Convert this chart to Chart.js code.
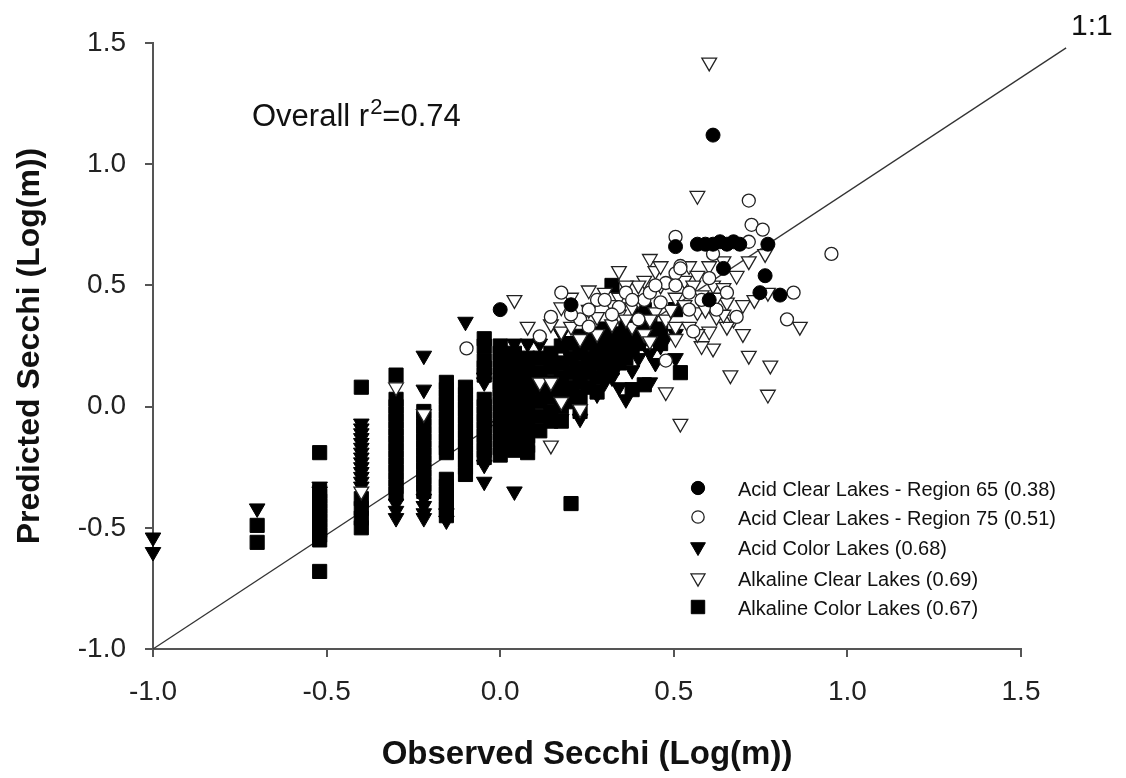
<!DOCTYPE html>
<html>
<head>
<meta charset="utf-8">
<title>Observed vs Predicted Secchi</title>
<script src="https://cdn.jsdelivr.net/npm/chart.js@4.4.1/dist/chart.umd.min.js"></script>
<style>
  html, body { margin: 0; padding: 0; background: #fff; }
  #wrap { width: 1126px; height: 778px; }
</style>
</head>
<body>
<div id="wrap"><canvas id="secchiChart" width="1126" height="778"></canvas></div>
<script>
// tick labels
const xTickLabels = ['-1.0', '-0.5', '0.0', '0.5', '1.0', '1.5'];
const yTickLabels = ['-1.0', '-0.5', '0.0', '0.5', '1.0', '1.5'];

// series: [observed, predicted] in log10(m)
const acidClear65 = [
  [0.0, 0.40], [0.204, 0.42], [0.505, 0.66], [0.568, 0.67], [0.591, 0.67],
  [0.613, 0.67], [0.633, 0.68], [0.653, 0.67], [0.672, 0.68], [0.690, 0.67],
  [0.771, 0.67], [0.613, 1.12], [0.643, 0.57], [0.602, 0.44], [0.763, 0.54],
  [0.748, 0.47], [0.806, 0.46]
];
const acidClear75 = [
  [0.716, 0.85], [0.724, 0.75], [0.756, 0.73], [0.505, 0.70], [0.716, 0.68],
  [0.613, 0.63], [0.954, 0.63], [0.845, 0.47], [0.826, 0.36], [0.681, 0.37],
  [0.505, 0.55], [0.519, 0.58], [0.477, 0.51], [0.505, 0.50], [0.544, 0.47],
  [0.580, 0.44], [0.415, 0.44], [0.477, 0.19], [0.176, 0.47], [0.279, 0.44],
  [0.519, 0.57], [-0.097, 0.24], [0.146, 0.37], [0.301, 0.44], [0.230, 0.36],
  [0.342, 0.41], [0.431, 0.47], [0.623, 0.40], [0.556, 0.31], [0.114, 0.29],
  [0.362, 0.47], [0.462, 0.43], [0.255, 0.40], [0.398, 0.36], [0.653, 0.47],
  [0.380, 0.44], [0.447, 0.50], [0.544, 0.40], [0.602, 0.53], [0.322, 0.38],
  [0.255, 0.33], [0.204, 0.38]
];
const acidColor = [
  [-1.0, -0.54], [-1.0, -0.60], [-0.70, -0.42], [-0.52, -0.33], [-0.52, -0.35],
  [-0.40, -0.07], [-0.40, -0.09], [-0.40, -0.11], [-0.40, -0.13], [-0.40, -0.15],
  [-0.40, -0.17], [-0.40, -0.19], [-0.40, -0.21], [-0.40, -0.23], [-0.40, -0.25],
  [-0.40, -0.27], [-0.40, -0.29], [-0.40, -0.31], [-0.40, -0.33],
  [-0.30, -0.40], [-0.30, -0.43], [-0.30, -0.46],
  [-0.22, 0.21], [-0.22, 0.07], [-0.22, -0.38], [-0.22, -0.41], [-0.22, -0.44], [-0.22, -0.46],
  [-0.155, -0.44], [-0.155, -0.47], [-0.10, 0.35],
  [-0.046, 0.12], [-0.046, 0.10], [-0.046, -0.24], [-0.046, -0.31], [0.041, -0.35],
  [0.041, 0.26], [0.079, 0.26], [0.114, 0.26], [0.176, -0.05], [0.230, -0.05],
  [0.301, 0.10], [0.505, 0.20], [0.079, 0.12], [0.146, 0.18], [0.204, 0.20],
  [0.255, 0.15], [0.301, 0.23], [0.342, 0.18], [0.398, 0.20], [0.447, 0.18],
  [0.462, 0.25], [0.380, 0.28], [0.322, 0.12], [0.279, 0.05], [0.114, 0.06],
  [0.041, 0.02], [0.0, -0.08], [0.146, -0.02], [0.204, 0.05], [0.431, 0.10],
  [0.362, 0.03], [0.255, 0.30], [0.176, 0.30], [0.079, -0.10], [0.041, -0.14],
  [0.505, 0.30], [0.477, 0.28], [0.431, 0.22], [0.380, 0.15], [0.342, 0.08],
  [0.279, 0.20], [0.230, 0.12], [0.176, 0.08]
];
const alkClear = [
  [0.602, 1.42], [0.568, 0.87], [0.763, 0.63], [0.716, 0.60], [0.681, 0.54],
  [0.643, 0.60], [0.771, 0.47], [0.863, 0.33], [0.653, 0.43], [0.431, 0.61],
  [0.447, 0.56], [0.415, 0.52], [0.342, 0.56], [0.544, 0.58], [0.568, 0.54],
  [0.613, 0.50], [0.643, 0.49], [0.531, 0.52], [0.342, 0.45], [0.380, 0.41],
  [0.447, 0.39], [0.568, 0.39], [0.623, 0.37], [0.672, 0.36], [0.699, 0.30],
  [0.613, 0.24], [0.716, 0.21], [0.778, 0.17], [0.663, 0.13], [0.771, 0.05],
  [0.477, 0.06], [0.519, -0.07], [0.146, -0.16], [0.041, 0.44], [0.079, 0.33],
  [0.176, 0.41], [0.146, 0.34], [0.176, 0.31], [0.204, 0.33], [0.255, 0.40],
  [0.279, 0.37], [0.322, 0.34], [0.342, 0.38], [0.380, 0.33], [0.398, 0.50],
  [0.602, 0.58], [0.544, 0.33], [0.477, 0.36], [0.415, 0.30], [-0.30, 0.08],
  [-0.40, -0.35], [-0.22, -0.03], [0.114, 0.10], [0.146, 0.10], [0.176, 0.02],
  [0.230, -0.01], [0.255, 0.48], [0.462, 0.58], [0.505, 0.45], [0.580, 0.46],
  [0.699, 0.42], [0.732, 0.44], [0.362, 0.50], [0.301, 0.47], [0.204, 0.45],
  [0.505, 0.33], [0.602, 0.31], [0.653, 0.33], [0.431, 0.27], [0.580, 0.25],
  [0.398, 0.44], [0.462, 0.50], [0.491, 0.40], [0.531, 0.42], [0.556, 0.50],
  [0.591, 0.40], [0.623, 0.45], [0.362, 0.36], [0.279, 0.30], [0.230, 0.28],
  [0.322, 0.42], [0.431, 0.36], [0.505, 0.28], [0.568, 0.30], [0.643, 0.38]
];
const alkColor = [
  [-0.70, -0.49], [-0.70, -0.56],
  [-0.52, -0.19], [-0.52, -0.35], [-0.52, -0.37], [-0.52, -0.39], [-0.52, -0.41],
  [-0.52, -0.43], [-0.52, -0.45], [-0.52, -0.47], [-0.52, -0.49], [-0.52, -0.51],
  [-0.52, -0.53], [-0.52, -0.55], [-0.52, -0.68],
  [-0.40, 0.08], [-0.40, -0.38], [-0.40, -0.42], [-0.40, -0.46], [-0.40, -0.50],
  [-0.30, 0.13], [-0.30, 0.03], [-0.30, 0.00], [-0.30, -0.03], [-0.30, -0.06],
  [-0.30, -0.09], [-0.30, -0.12], [-0.30, -0.15], [-0.30, -0.18], [-0.30, -0.21],
  [-0.30, -0.24], [-0.30, -0.27], [-0.30, -0.30], [-0.30, -0.33], [-0.30, -0.36],
  [-0.22, -0.02], [-0.22, -0.05], [-0.22, -0.08], [-0.22, -0.11], [-0.22, -0.14],
  [-0.22, -0.17], [-0.22, -0.20], [-0.22, -0.23], [-0.22, -0.26], [-0.22, -0.29],
  [-0.22, -0.32], [-0.22, -0.35],
  [-0.155, 0.10], [-0.155, 0.07], [-0.155, 0.04], [-0.155, 0.01], [-0.155, -0.02],
  [-0.155, -0.05], [-0.155, -0.08], [-0.155, -0.11], [-0.155, -0.14], [-0.155, -0.17],
  [-0.155, -0.19], [-0.155, -0.30], [-0.155, -0.33], [-0.155, -0.36], [-0.155, -0.39],
  [-0.155, -0.42], [-0.155, -0.45],
  [-0.10, 0.08], [-0.10, 0.05], [-0.10, 0.02], [-0.10, -0.01], [-0.10, -0.04],
  [-0.10, -0.07], [-0.10, -0.10], [-0.10, -0.13], [-0.10, -0.16], [-0.10, -0.19],
  [-0.10, -0.22], [-0.10, -0.25], [-0.10, -0.28],
  [-0.046, 0.28], [-0.046, 0.25], [-0.046, 0.19], [-0.046, 0.16], [-0.046, 0.13],
  [-0.046, 0.03], [-0.046, 0.00], [-0.046, -0.03], [-0.046, -0.06], [-0.046, -0.09],
  [-0.046, -0.12], [-0.046, -0.15], [-0.046, -0.18], [-0.046, -0.21],
  [0.0, 0.25], [0.0, 0.22], [0.0, 0.19], [0.0, 0.16], [0.0, 0.13], [0.0, 0.10],
  [0.0, 0.07], [0.0, 0.04], [0.0, 0.01], [0.0, -0.02], [0.0, -0.05], [0.0, -0.08],
  [0.0, -0.11], [0.0, -0.14], [0.0, -0.17], [0.0, -0.20],
  [0.041, 0.22], [0.041, 0.18], [0.041, 0.14], [0.041, 0.10], [0.041, 0.06],
  [0.041, 0.02], [0.041, -0.02], [0.041, -0.06], [0.041, -0.10], [0.041, -0.14],
  [0.041, -0.18],
  [0.079, 0.20], [0.079, 0.16], [0.079, 0.12], [0.079, 0.08], [0.079, 0.04],
  [0.079, 0.00], [0.079, -0.04], [0.079, -0.08], [0.079, -0.12], [0.079, -0.16],
  [0.079, -0.19],
  [0.114, 0.20], [0.114, 0.14], [0.114, 0.08], [0.114, 0.02], [0.114, -0.04], [0.114, -0.10],
  [0.146, 0.22], [0.146, 0.16], [0.146, 0.10], [0.146, 0.04], [0.146, -0.02], [0.146, -0.06],
  [0.176, 0.25], [0.176, 0.18], [0.176, 0.12], [0.176, 0.06], [0.176, 0.00], [0.176, -0.06],
  [0.204, 0.26], [0.204, 0.20], [0.204, 0.14], [0.204, 0.08], [0.204, 0.02], [0.204, -0.40],
  [0.230, 0.29], [0.230, 0.22], [0.230, 0.16], [0.230, 0.10], [0.230, 0.04], [0.230, -0.02],
  [0.255, 0.26], [0.255, 0.20], [0.255, 0.14], [0.255, 0.08],
  [0.279, 0.30], [0.279, 0.24], [0.279, 0.18], [0.279, 0.12], [0.279, 0.06],
  [0.301, 0.32], [0.301, 0.26], [0.301, 0.20], [0.301, 0.14],
  [0.322, 0.50], [0.322, 0.28], [0.322, 0.22], [0.322, 0.16],
  [0.342, 0.30], [0.342, 0.24], [0.342, 0.18],
  [0.362, 0.33], [0.362, 0.27], [0.362, 0.20],
  [0.380, 0.30], [0.380, 0.24], [0.380, 0.07],
  [0.398, 0.40], [0.398, 0.32], [0.398, 0.26],
  [0.415, 0.40], [0.415, 0.30], [0.415, 0.09],
  [0.431, 0.34], [0.431, 0.28], [0.462, 0.32], [0.462, 0.26],
  [0.505, 0.40], [0.519, 0.14]
];

// reference line endpoints
const oneToOneX = [-1.0, 1.63];
const oneToOneY = [-1.0, 1.48];

const legendLabels = [
  'Acid Clear Lakes - Region 65 (0.38)',
  'Acid Clear Lakes - Region 75 (0.51)',
  'Acid Color Lakes (0.68)',
  'Alkaline Clear Lakes (0.69)',
  'Alkaline Color Lakes (0.67)'
];

const FONT = '"Liberation Sans", Arial, Helvetica, sans-serif';
const toXY = arr => arr.map(p => ({ x: p[0], y: p[1] }));

// marker styles, same order as legendLabels
const markers = [
  { pointStyle: 'circle', radius: 7, rotation: 0, fill: '#000', stroke: '#000', borderWidth: 1 },
  { pointStyle: 'circle', radius: 6.5, rotation: 0, fill: '#fff', stroke: '#222', borderWidth: 1.3 },
  { pointStyle: 'triangle', radius: 9, rotation: 180, fill: '#000', stroke: '#000', borderWidth: 1 },
  { pointStyle: 'triangle', radius: 8.5, rotation: 180, fill: '#fff', stroke: '#222', borderWidth: 1.3 },
  { pointStyle: 'rect', radius: 10, rotation: 0, fill: '#000', stroke: '#000', borderWidth: 1 }
];

function scatterSet(label, pts, m) {
  return {
    type: 'scatter',
    label: label,
    data: toXY(pts),
    pointStyle: m.pointStyle,
    pointRadius: m.radius,
    pointRotation: m.rotation,
    pointBackgroundColor: m.fill,
    pointBorderColor: m.stroke,
    pointBorderWidth: m.borderWidth,
    clip: false
  };
}

// text + legend drawn straight onto the canvas
const annotations = {
  id: 'annotations',
  afterDraw(chart) {
    const ctx = chart.ctx;
    ctx.save();
    ctx.fillStyle = '#111';
    ctx.textBaseline = 'alphabetic';
    ctx.textAlign = 'left';

    // Overall r^2
    ctx.font = '31px ' + FONT;
    let x = 252;
    ctx.fillText('Overall r', x, 126);
    x += ctx.measureText('Overall r').width + 1;
    ctx.font = '22px ' + FONT;
    ctx.fillText('2', x, 114);
    x += ctx.measureText('2').width;
    ctx.font = '31px ' + FONT;
    ctx.fillText('=0.74', x, 126);

    // 1:1 label
    ctx.font = '30px ' + FONT;
    ctx.fillText('1:1', 1071, 35);

    // legend
    const rowsY = [488, 517, 547, 578, 607];
    ctx.font = '20px ' + FONT;
    legendLabels.forEach((txt, i) => {
      const m = markers[i];
      ctx.fillStyle = m.fill;
      ctx.strokeStyle = m.stroke;
      ctx.lineWidth = m.borderWidth;
      Chart.helpers.drawPoint(ctx, {
        pointStyle: m.pointStyle,
        radius: m.radius * 0.95,
        rotation: m.rotation,
        borderWidth: m.borderWidth
      }, 698, rowsY[i]);
      ctx.fillStyle = '#111';
      ctx.fillText(txt, 738, rowsY[i] + 8);
    });
    ctx.restore();
  }
};

const axisColor = '#555';
const ctx = document.getElementById('secchiChart').getContext('2d');
const secchiChart = new Chart(ctx, {
  data: {
    datasets: [
      scatterSet(legendLabels[0], acidClear65, markers[0]),
      scatterSet(legendLabels[1], acidClear75, markers[1]),
      scatterSet(legendLabels[3], alkClear, markers[3]),
      scatterSet(legendLabels[4], alkColor, markers[4]),
      scatterSet(legendLabels[2], acidColor, markers[2]),
      {
        type: 'line',
        label: '1:1',
        data: oneToOneX.map((v, i) => ({ x: v, y: oneToOneY[i] })),
        borderColor: '#333',
        borderWidth: 1.3,
        pointRadius: 0,
        fill: false,
        clip: false
      }
    ]
  },
  options: {
    responsive: false,
    animation: false,
    events: [],
    layout: { padding: { left: 0, top: 43, right: 105, bottom: 0 } },
    plugins: {
      legend: { display: false },
      tooltip: { enabled: false }
    },
    scales: {
      x: {
        type: 'linear',
        position: 'bottom',
        min: -1.0,
        max: 1.5,
        afterFit: s => { s.height = 129; },
        ticks: {
          stepSize: 0.5,
          padding: 18,
          color: '#222',
          font: { family: FONT, size: 28 },
          callback: (v, i) => xTickLabels[i]
        },
        grid: { drawOnChartArea: false, drawTicks: true, tickLength: 8, color: axisColor, lineWidth: 2 },
        border: { display: true, color: axisColor, width: 2 },
        title: {
          display: true,
          text: 'Observed Secchi (Log(m))',
          color: '#111',
          font: { family: FONT, size: 33, weight: 'bold' },
          padding: { top: 0, bottom: 3 }
        }
      },
      y: {
        type: 'linear',
        min: -1.0,
        max: 1.5,
        afterFit: s => { s.width = 153; },
        ticks: {
          stepSize: 0.5,
          padding: 19,
          color: '#222',
          font: { family: FONT, size: 28 },
          callback: (v, i) => yTickLabels[i]
        },
        grid: { drawOnChartArea: false, drawTicks: true, tickLength: 8, color: axisColor, lineWidth: 2 },
        border: { display: true, color: axisColor, width: 2 },
        title: {
          display: true,
          text: 'Predicted Secchi (Log(m))',
          color: '#111',
          font: { family: FONT, size: 32, weight: 'bold' },
          padding: { top: 11, bottom: 0 }
        }
      }
    }
  },
  plugins: [annotations]
});
</script>
</body>
</html>
